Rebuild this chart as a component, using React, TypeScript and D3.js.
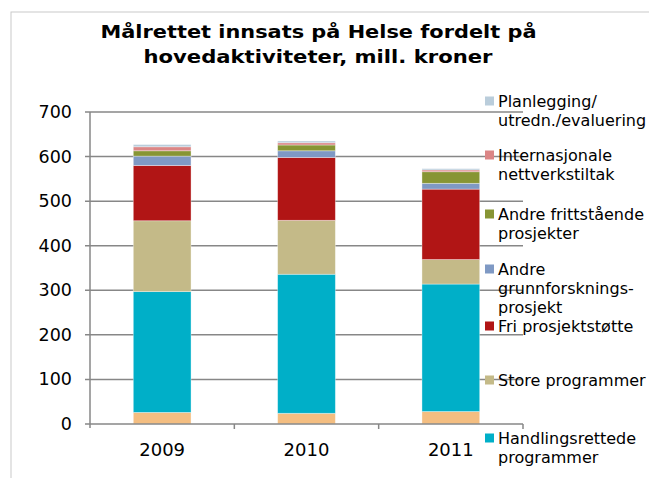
import React from "react";
import * as d3 from "d3";

// categories and series (mill. kroner), bottom to top in the stack
const years = ["2009", "2010", "2011"];
const seriesNames = [
  "Øvrige",
  "Handlingsrettede programmer",
  "Store programmer",
  "Fri prosjektstøtte",
  "Andre grunnforsknings-prosjekt",
  "Andre frittstående prosjekter",
  "Internasjonale nettverkstiltak",
  "Planlegging/ utredn./evaluering",
];
const ovrige = [26, 24, 28];
const handlingsrettede = [271, 312, 286];
const storeProgrammer = [159, 121, 55];
const friProsjektstotte = [124, 141, 158];
const grunnforskning = [21, 15, 13];
const frittstaende = [12, 13, 26];
const internasjonale = [9, 5, 4];
const planlegging = [5, 4, 3];
const colors = ["#F4BE81", "#00AFC8", "#C4BA88", "#B11515", "#7F99C4", "#879534", "#DB8686", "#BACDDB"];
const yTicks = [0, 100, 200, 300, 400, 500, 600, 700];

// legend lines, top to bottom, with the series index they belong to
const legendItems = [
  { idx: 7, lines: ["Planlegging/", "utredn./evaluering"] },
  { idx: 6, lines: ["Internasjonale", "nettverkstiltak"] },
  { idx: 5, lines: ["Andre frittstående", "prosjekter"] },
  { idx: 4, lines: ["Andre", "grunnforsknings-", "prosjekt"] },
  { idx: 3, lines: ["Fri prosjektstøtte"] },
  { idx: 2, lines: ["Store programmer"] },
  { idx: 1, lines: ["Handlingsrettede", "programmer"] },
];
const legendY = [101, 155, 214, 269, 326, 380, 438];

const allSeries = [
  ovrige, handlingsrettede, storeProgrammer, friProsjektstotte,
  grunnforskning, frittstaende, internasjonale, planlegging,
];

const width = 649, height = 478;
const plot = { left: 90, right: 523, top: 112, bottom: 424 };
const font = "'DejaVu Sans', Verdana, sans-serif";

export default function App() {
  const table = years.map((y, i) => {
    const row: Record<string, number | string> = { year: y };
    seriesNames.forEach((n, s) => (row[n] = allSeries[s][i]));
    return row;
  });
  const stacked = d3.stack<any>().keys(seriesNames)(table);

  const x = d3.scaleBand().domain(years).range([plot.left, plot.right]).paddingInner(0.6).paddingOuter(0.3);
  const y = d3.scaleLinear().domain([0, 700]).range([plot.bottom, plot.top]);
  const step = (plot.right - plot.left) / years.length;

  return (
    <svg width={width} height={height} style={{ position: "absolute", left: 0, top: 0, background: "#fff" }}>
      <rect x={11} y={12} width={700} height={500} fill="#fff" stroke="#c9c9c9" strokeWidth={1} />
      <text x={318.5} y={38} textAnchor="middle" fontFamily={font} fontWeight="bold" fontSize={18.5}
        textLength={436} lengthAdjust="spacingAndGlyphs">
        Målrettet innsats på Helse fordelt på
      </text>
      <text x={318} y={63} textAnchor="middle" fontFamily={font} fontWeight="bold" fontSize={18.5}
        textLength={349} lengthAdjust="spacingAndGlyphs">
        hovedaktiviteter, mill. kroner
      </text>

      {/* gridlines */}
      {yTicks.filter(t => t > 0).map(t => (
        <line key={t} x1={plot.left - 5} x2={plot.right} y1={y(t)} y2={y(t)} stroke="#878787" strokeWidth={1.5} />
      ))}

      {/* bars */}
      {stacked.map((layer, s) => (
        <g key={seriesNames[s]} fill={colors[s]}>
          {layer.map((d, i) => (
            <rect key={years[i]} x={x(years[i])} y={y(d[1])} width={x.bandwidth()} height={y(d[0]) - y(d[1])}
              stroke="#fff" strokeOpacity={0.45} strokeWidth={0.8} />
          ))}
        </g>
      ))}

      {/* axes */}
      <line x1={plot.left} x2={plot.left} y1={plot.top} y2={plot.bottom + 4} stroke="#878787" strokeWidth={1.5} />
      <line x1={plot.left - 5} x2={plot.right} y1={plot.bottom} y2={plot.bottom} stroke="#878787" strokeWidth={1.5} />
      {years.map((_, i) => (
        <line key={i} x1={plot.left + step * (i + 1)} x2={plot.left + step * (i + 1)} y1={plot.bottom} y2={plot.bottom + 5}
          stroke="#878787" strokeWidth={1.5} />
      ))}
      {yTicks.map(t => (
        <text key={t} x={72} y={y(t) + 6} textAnchor="end" fontFamily={font} fontSize={17.5}>{t}</text>
      ))}
      {years.map(yr => (
        <text key={yr} x={(x(yr) as number) + x.bandwidth() / 2} y={456} textAnchor="middle" fontFamily={font} fontSize={18}>
          {yr}
        </text>
      ))}

      {/* legend */}
      {legendItems.map((item, k) => (
        <g key={item.idx}>
          <rect x={485} y={legendY[k] - 4.5} width={9} height={9} fill={colors[item.idx]} />
          {item.lines.map((ln, j) => (
            <text key={j} x={498} y={legendY[k] + 6 + j * 19} fontFamily={font} fontSize={16} fill="#000">{ln}</text>
          ))}
        </g>
      ))}
    </svg>
  );
}
